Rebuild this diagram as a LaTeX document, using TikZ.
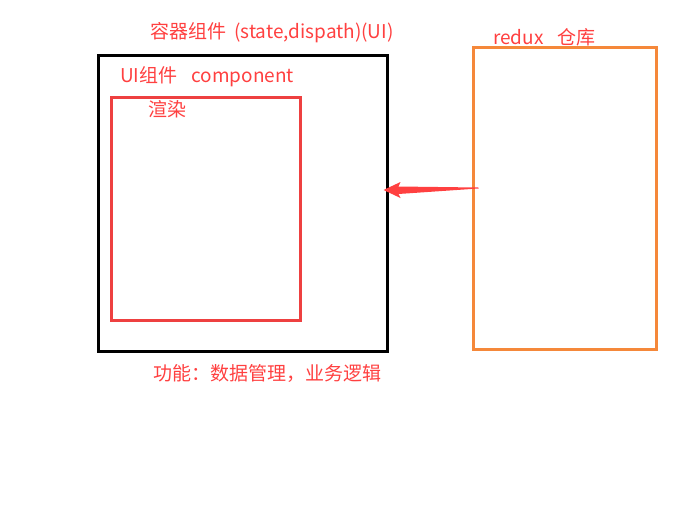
\documentclass[tikz,border=0pt]{standalone}
\usepackage{fontspec}
\setmainfont{Noto Sans CJK SC}
\usetikzlibrary{calc}
\definecolor{txtred}{HTML}{FF4040}
\definecolor{boxred}{HTML}{EE4040}
\definecolor{boxorange}{HTML}{F5883A}
\tikzset{
  box/.style={draw, rectangle, line width=3pt, inner sep=0pt, outer sep=0pt},
  label/.style={text=txtred, inner sep=0pt, anchor=west, font=\fontsize{19}{19}\selectfont}
}

\begin{document}
\begin{tikzpicture}[x=1pt, y=-1pt]
  \useasboundingbox (0,0) rectangle (677,507);
  % Containers
  \node[box, draw=black, minimum width=289pt, minimum height=296pt] (container) at (243,203.5) {};
  \node[box, draw=boxred, minimum width=189pt, minimum height=223pt] (ui) at (206,209) {};
  \node[box, draw=boxorange, minimum width=183pt, minimum height=302pt] (store) at (565,198.5) {};
  % Labels
  \node[label] (ctitle) at (150,33) {容器组件\hspace{8pt}(state,dispath)(UI)};
  \node[label] (utitle) at (120,77) {UI组件\hspace{14pt}component};
  \node[label] (render) at (148,109) {渲染};
  \node[label] (func) at (153,373) {功能：数据管理，业务逻辑};
  \node[label] (stitle) at (493,37) {redux\hspace{14pt}仓库};
  % Arrow: store to container
  \coordinate (tail) at ($(store.west)+(5,-10.5)$);
  \coordinate (tip) at ($(container.east)+(-4,-13.5)$);
  \fill[txtred] (tip) -- ($(tip)+(17,-8)$) -- ($(tip)+(15,-3.5)$) -- ($(tail)+(0,-0.5)$)
    -- ($(tail)+(0,0.5)$) -- ($(tip)+(15,4)$) -- ($(tip)+(17,8)$) -- cycle;
\end{tikzpicture}
\end{document}
